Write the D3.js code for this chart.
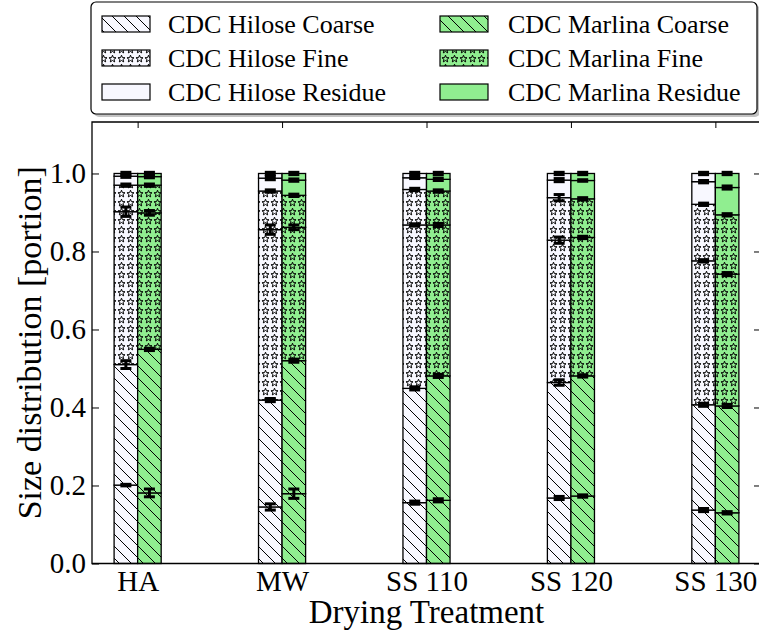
<!DOCTYPE html>
<html>
<head>
<meta charset="utf-8">
<script src="https://cdn.jsdelivr.net/npm/d3@7"></script>
<style>
  body { margin: 0; background: #fff; overflow: hidden; }
  text { font-family: "Liberation Serif", serif; fill: #000; }
</style>
</head>
<body>
<script>
// treatments on the x axis
var categories = ['HA', 'MW', 'SS 110', 'SS 120', 'SS 130'];

// cumulative tops of the stacked layers (coarse x2, fine x2, residue x2)
var hiloseTops = [
  [0.201, 0.510, 0.902, 0.970, 0.993, 1.0],
  [0.145, 0.419, 0.856, 0.955, 0.988, 1.0],
  [0.156, 0.449, 0.868, 0.959, 0.989, 1.0],
  [0.168, 0.464, 0.829, 0.938, 0.983, 1.0],
  [0.137, 0.407, 0.776, 0.921, 0.979, 1.0]
];
var marlinaTops = [
  [0.181, 0.549, 0.899, 0.970, 0.992, 1.0],
  [0.179, 0.520, 0.862, 0.944, 0.983, 1.0],
  [0.162, 0.481, 0.868, 0.955, 0.985, 1.0],
  [0.173, 0.481, 0.836, 0.935, 0.982, 1.0],
  [0.130, 0.404, 0.742, 0.894, 0.964, 1.0]
];
// error (+/-) at each top
var hiloseErr = [
  [0.002, 0.010, 0.012, 0.003, 0.003, 0.003],
  [0.008, 0.004, 0.012, 0.003, 0.004, 0.003],
  [0.004, 0.004, 0.003, 0.003, 0.002, 0.003],
  [0.004, 0.007, 0.008, 0.008, 0.004, 0.003],
  [0.004, 0.004, 0.003, 0.003, 0.003, 0.003]
];
var marlinaErr = [
  [0.010, 0.003, 0.006, 0.003, 0.003, 0.003],
  [0.012, 0.004, 0.006, 0.003, 0.003, 0.003],
  [0.004, 0.004, 0.004, 0.003, 0.003, 0.003],
  [0.003, 0.003, 0.003, 0.003, 0.002, 0.003],
  [0.003, 0.004, 0.004, 0.003, 0.004, 0.003]
];
var layerKind = ['coarse', 'coarse', 'fine', 'fine', 'residue', 'residue'];

var yTicks = [0, 0.2, 0.4, 0.6, 0.8, 1.0];
var legendLabels = [
  ['CDC Hilose Coarse', 'CDC Hilose Fine', 'CDC Hilose Residue'],
  ['CDC Marlina Coarse', 'CDC Marlina Fine', 'CDC Marlina Residue']
];

var hiloseColor = '#f8f8ff';
var marlinaColor = '#90ee90';

var W = 759, H = 635;
var axL = 92, axR = 761, axT = 122, axB = 563.5;
var barW = 0.163;

var svg = d3.select('body').append('svg')
  .attr('width', W).attr('height', H);

var defs = svg.append('defs');

// hatch patterns, in page space like matplotlib
function makeHatch(id, bg) {
  var p = defs.append('pattern').attr('id', id)
    .attr('patternUnits', 'userSpaceOnUse')
    .attr('width', 12).attr('height', 12);
  p.append('rect').attr('width', 12).attr('height', 12).attr('fill', bg);
  p.append('path').attr('d', 'M0,0L12,12M-3,9L3,15M9,-3L15,3')
    .attr('stroke', '#000').attr('stroke-width', 1).attr('fill', 'none');
}
function starPath(cx, cy, r1, r2) {
  var pts = [];
  for (var k = 0; k < 10; k++) {
    var a = -Math.PI / 2 + k * Math.PI / 5;
    var r = k % 2 ? r2 : r1;
    pts.push([cx + r * Math.cos(a), cy + r * Math.sin(a)]);
  }
  return 'M' + pts.join('L') + 'Z';
}
function makeStars(id, bg) {
  var p = defs.append('pattern').attr('id', id)
    .attr('patternUnits', 'userSpaceOnUse')
    .attr('width', 9).attr('height', 9);
  p.append('rect').attr('width', 9).attr('height', 9).attr('fill', bg);
  p.append('path').attr('d', starPath(4.5, 4.9, 3.7, 1.6))
    .attr('stroke', '#000').attr('stroke-width', 1).attr('fill', 'none');
}
makeHatch('hc', hiloseColor);
makeStars('hf', hiloseColor);
makeHatch('mc', marlinaColor);
makeStars('mf', marlinaColor);

function fillFor(series, kind) {
  if (kind === 'coarse') return 'url(#' + series + 'c)';
  if (kind === 'fine') return 'url(#' + series + 'f)';
  return series === 'h' ? hiloseColor : marlinaColor;
}

var x = d3.scaleLinear().domain([-0.316, 4.316]).range([axL, axR]);
var y = d3.scaleLinear().domain([0, 1.132]).range([axB, axT]);

// axes ticks (inward)
var gy = svg.append('g').attr('transform', 'translate(' + axL + ',0)')
  .call(d3.axisLeft(y).tickValues(yTicks).tickFormat(d3.format('.1f'))
    .tickSizeInner(-7).tickSizeOuter(0).tickPadding(6));
var gyr = svg.append('g').attr('transform', 'translate(' + axR + ',0)')
  .call(d3.axisRight(y).tickValues(yTicks).tickFormat('')
    .tickSizeInner(-7).tickSizeOuter(0));
var gx = svg.append('g').attr('transform', 'translate(0,' + axB + ')')
  .call(d3.axisBottom(x).tickValues(d3.range(categories.length))
    .tickFormat(function(i) { return categories[i]; })
    .tickSizeInner(-7).tickSizeOuter(0).tickPadding(7));
var gxt = svg.append('g').attr('transform', 'translate(0,' + axT + ')')
  .call(d3.axisTop(x).tickValues(d3.range(categories.length)).tickFormat('')
    .tickSizeInner(-6).tickSizeOuter(0));
[gy, gyr, gx, gxt].forEach(function(g) {
  g.select('.domain').remove();
  g.selectAll('line').attr('stroke', '#000').attr('stroke-width', 1);
  g.selectAll('text').style('font-family', '"Liberation Serif", serif')
    .style('font-size', '29px').attr('fill', '#000');
});

// bars
function drawBars(tops, errs, series, offset) {
  tops.forEach(function(levels, i) {
    var x0 = x(i + offset), x1 = x(i + offset + barW);
    var g = svg.append('g');
    levels.forEach(function(v, k) {
      var lo = k === 0 ? 0 : levels[k - 1];
      g.append('rect')
        .attr('x', x0).attr('width', x1 - x0)
        .attr('y', y(v)).attr('height', y(lo) - y(v))
        .attr('fill', fillFor(series, layerKind[k]))
        .attr('stroke', '#000').attr('stroke-width', 1.3);
    });
    var cx = (x0 + x1) / 2;
    levels.forEach(function(v, k) {
      var e = errs[i][k];
      g.append('line').attr('x1', cx).attr('x2', cx)
        .attr('y1', y(v - e)).attr('y2', y(v + e))
        .attr('stroke', '#000').attr('stroke-width', 3);
      [v - e, v + e].forEach(function(c) {
        g.append('line').attr('x1', cx - 5.5).attr('x2', cx + 5.5)
          .attr('y1', y(c)).attr('y2', y(c))
          .attr('stroke', '#000').attr('stroke-width', 3);
      });
    });
  });
}
drawBars(hiloseTops, hiloseErr, 'h', -barW);
drawBars(marlinaTops, marlinaErr, 'm', 0);

// frame
svg.append('path')
  .attr('d', 'M' + axR + ',' + axT + 'H' + axL + 'V' + axB + 'H' + axR)
  .attr('fill', 'none').attr('stroke', '#000').attr('stroke-width', 1.3);

// axis labels
svg.append('text')
  .attr('x', (axL + axR) / 2).attr('y', 623)
  .attr('text-anchor', 'middle').style('font-size', '33px')
  .text('Drying Treatment');
svg.append('text')
  .attr('transform', 'translate(41,' + ((axT + axB) / 2) + ') rotate(-90)')
  .attr('text-anchor', 'middle').style('font-size', '34px')
  .text('Size distribution [portion]');

// legend
var lg = svg.append('g');
lg.append('rect').attr('x', 94).attr('y', 5).attr('width', 666).attr('height', 112)
  .attr('rx', 5).attr('fill', '#888').attr('opacity', 0.5);
lg.append('rect').attr('x', 91).attr('y', 2).attr('width', 666).attr('height', 112)
  .attr('rx', 5).attr('fill', '#fff').attr('stroke', '#000').attr('stroke-width', 1.2);
var kinds = ['coarse', 'fine', 'residue'];
var colX = [102, 440], textX = [168, 508], rowY = [24, 58, 92];
legendLabels.forEach(function(col, c) {
  col.forEach(function(label, r) {
    lg.append('rect').attr('x', colX[c]).attr('y', rowY[r] - 8)
      .attr('width', 48).attr('height', 16)
      .attr('fill', fillFor(c === 0 ? 'h' : 'm', kinds[r]))
      .attr('stroke', '#000').attr('stroke-width', 1.2);
    lg.append('text').attr('x', textX[c]).attr('y', rowY[r] + 9)
      .style('font-size', '26px').text(label);
  });
});
</script>
</body>
</html>
